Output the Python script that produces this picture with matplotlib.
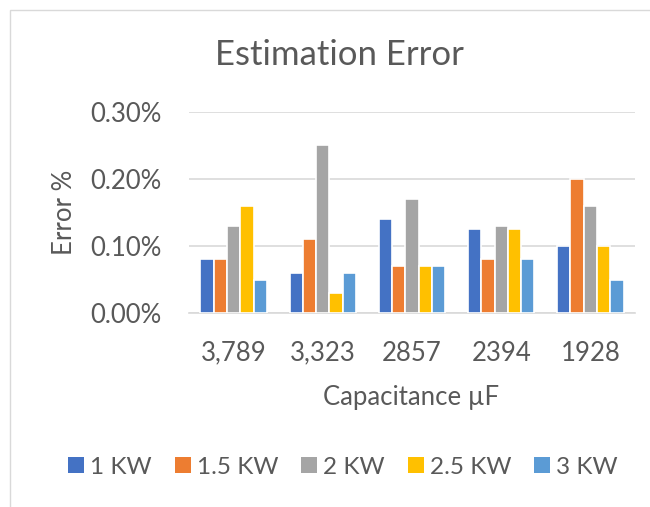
import matplotlib
matplotlib.use("Agg")
import matplotlib.pyplot as plt
import numpy as np
from matplotlib.patches import Rectangle
from matplotlib.ticker import FuncFormatter

categories = ["3,789", "3,323", "2857", "2394", "1928"]
series_names = ["1 KW", "1.5 KW", "2 KW", "2.5 KW", "3 KW"]
kw1 = [0.08, 0.06, 0.14, 0.125, 0.10]
kw15 = [0.08, 0.11, 0.07, 0.08, 0.20]
kw2 = [0.13, 0.25, 0.17, 0.13, 0.16]
kw25 = [0.16, 0.03, 0.07, 0.125, 0.10]
kw3 = [0.05, 0.06, 0.07, 0.08, 0.05]
series = [kw1, kw15, kw2, kw25, kw3]
colors = ["#4472C4", "#ED7D31", "#A5A5A5", "#FFC000", "#5B9BD5"]

plt.rcParams['font.family'] = ['Lato', 'DejaVu Sans']
txt = "#595959"
fs = 18.5

fig = plt.figure(figsize=(6.5, 5.07), dpi=100)
W, H = 650, 507
# chart border
fig.patches.append(Rectangle((10 / W, -0.01), 1.0, (H - 10) / H + 0.01, transform=fig.transFigure,
                             fill=False, edgecolor="#D9D9D9", linewidth=1.0))

ax = fig.add_axes([189 / W, 1 - 313 / H, (635 - 189) / W, (313 - 112) / H])
x = np.arange(len(categories))
slot = 0.149
for i, (vals, c, name) in enumerate(zip(series, colors, series_names)):
    ax.bar(x + (i - 2) * slot, vals, width=slot, color=c, edgecolor="white",
           linewidth=1.2, label=name, zorder=3)

ax.set_xlim(-0.5, len(categories) - 0.5)
ax.set_ylim(0, 0.30)
ax.set_yticks([0, 0.10, 0.20, 0.30])
ax.yaxis.set_major_formatter(FuncFormatter(lambda v, p: f"{v:.2f}%"))
ax.set_xticks(x)
ax.set_xticklabels(categories)
ax.grid(axis="y", color="#D9D9D9", linewidth=1.2, zorder=0)
for s in ["top", "right", "left"]:
    ax.spines[s].set_visible(False)
ax.spines["bottom"].set_color("#D9D9D9")
ax.spines["bottom"].set_linewidth(1.2)
ax.tick_params(axis="both", length=0, labelsize=fs, colors=txt)
ax.tick_params(axis="y", pad=20)
ax.tick_params(axis="x", pad=20)

fig.text(64 / W, 1 - 212 / H, "Error %", ha="center", va="center", rotation=90, fontsize=fs, color=txt)
fig.text(411 / W, 1 - 398 / H, "Capacitance µF", ha="center", va="center", fontsize=fs, color=txt)
fig.text(339 / W, 1 - 55 / H, "Estimation Error", ha="center", va="center", fontsize=25, color=txt)

leg = fig.legend(loc="center", bbox_to_anchor=(343 / W, 1 - 467 / H), ncol=5, frameon=False,
                 fontsize=17.5, handlelength=0.65, handleheight=0.65, handletextpad=0.25,
                 columnspacing=0.95, labelcolor=txt)
for h in leg.legend_handles:
    h.set_edgecolor("none")

fig.savefig("out.png", dpi=100)
